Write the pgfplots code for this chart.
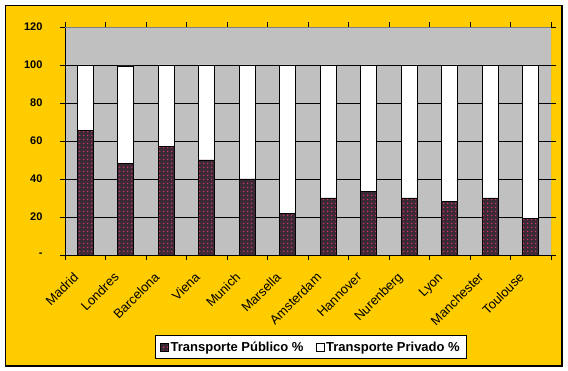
\documentclass[border=0pt]{standalone}
\usepackage{pgfplots}
\pgfplotsset{compat=1.18}
\usepackage{fontspec}
\setmainfont{Liberation Sans}
\usetikzlibrary{patterns.meta}
\definecolor{bgy}{HTML}{FFCC00}
\definecolor{plotg}{HTML}{C0C0C0}
\definecolor{dk}{HTML}{3A2A36}
\definecolor{pk}{HTML}{CC3366}
\definecolor{edge}{HTML}{808080}
\begin{document}
\begin{tikzpicture}
\fill[white] (0,0) rectangle (568pt,371pt);
\draw[line width=1.2pt, fill=bgy] (5.5pt,5pt) rectangle (562pt,365.5pt);
\begin{axis}[
  at={(65pt,116pt)}, anchor=south west,
  width=486pt, height=228pt, scale only axis,
  ybar stacked, bar width=16pt,
  xmin=-0.5, xmax=11.5, ymin=0, ymax=120,
  axis line style={draw=none},
  axis background/.style={fill=plotg},
  xtick={-0.5,0.5,...,11.5},
  x tick label as interval,
  xticklabels={Madrid,Londres,Barcelona,Viena,Munich,Marsella,Amsterdam,Hannover,Nurenberg,Lyon,Manchester,Toulouse},
  xticklabel style={rotate=45, anchor=north east, font=\fontsize{13}{15}\selectfont, inner sep=1pt, xshift=-16pt, yshift=2pt},
  ytick={0,20,...,120},
  yticklabels={{-\hspace{12pt}},20,40,60,80,100,120},
  yticklabel style={font=\fontsize{11}{12}\selectfont\bfseries, xshift=-14pt},
  tick align=outside, major tick length=5pt,
  tick style={black, line width=0.8pt},
  ymajorgrids, major grid style={black, line width=0.8pt},
  legend style={at={(0.506,-0.405)}, anchor=center, legend columns=2,
    draw=black, fill=white, line width=0.8pt,
    font=\fontsize{13}{15}\selectfont\bfseries, inner xsep=5pt, inner ysep=4pt,
    /tikz/every even column/.append style={column sep=10pt}},
  legend image code/.code={\draw[#1, line width=0.6pt] (0pt,-4pt) rectangle (8pt,4pt);},
]
\addplot[fill=dk, draw=black, line width=0.8pt,
  postaction={pattern={Dots[distance=4pt,radius=1pt]}, pattern color=pk}]
  coordinates {(0,65.5) (1,48) (2,57) (3,50) (4,40) (5,22) (6,30) (7,33.5) (8,30) (9,28) (10,30) (11,19)};
\addplot[fill=white, draw=black, line width=0.8pt]
  coordinates {(0,34.5) (1,51.5) (2,43) (3,50) (4,60) (5,78) (6,70) (7,66.5) (8,70) (9,72) (10,70) (11,81)};
\legend{Transporte Público \%, Transporte Privado \%}
\draw[edge, line width=0.8pt] (rel axis cs:0,1) -- (rel axis cs:1,1) -- (rel axis cs:1,0);
\draw[black, line width=0.8pt] (rel axis cs:0,1) -- (rel axis cs:0,0) -- (rel axis cs:1,0);
\end{axis}
\end{tikzpicture}
\end{document}
